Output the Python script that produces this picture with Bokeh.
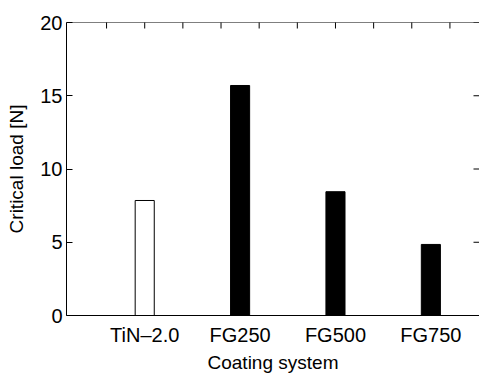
from bokeh.plotting import figure
from bokeh.models import LinearAxis, FixedTicker, Range1d, ColumnDataSource, Span
from bokeh.embed import file_html
from bokeh.resources import INLINE
import math

# Data
categories = ["TiN\u20132.0", "FG250", "FG500", "FG750"]
critical_load = [7.85, 15.7, 8.45, 4.85]
y_ticks = [0, 5, 10, 15, 20]
top_ticks = [0.6, 1.0, 1.4, 1.8, 2.2, 2.6, 3.0, 3.4, 3.8, 4.2]

positions = list(range(1, len(categories) + 1))
fill_colors = ["white", "black", "black", "black"]

X0, X1 = 0.18, 4.51
Y0, Y1 = 0, 20

FONT = "Liberation Sans"
FS = "20px"
LFS = "19px"

p = figure(width=479, height=375, output_backend="svg", toolbar_location=None,
           x_range=Range1d(X0, X1), y_range=Range1d(Y0, Y1),
           min_border_left=66, min_border_right=0, min_border_top=22,
           min_border_bottom=55, x_axis_location=None, y_axis_location=None)
p.grid.visible = False
p.outline_line_color = None
p.background_fill_color = "white"
p.border_fill_color = "white"

src = ColumnDataSource(dict(x=positions, top=critical_load, color=fill_colors))
p.vbar(x="x", top="top", bottom=0, width=0.2, source=src,
       fill_color="color", line_color="black", line_width=1)

def style(ax):
    ax.axis_line_color = "black"
    ax.axis_line_width = 1
    ax.major_tick_line_color = "black"
    ax.major_tick_in = 6
    ax.major_tick_out = 0
    ax.minor_tick_line_color = None
    ax.major_label_text_font = FONT
    ax.major_label_text_font_size = FS
    ax.major_label_text_color = "black"
    ax.axis_label_text_font = FONT
    ax.axis_label_text_font_size = LFS
    ax.axis_label_text_font_style = "normal"
    ax.axis_label_text_color = "black"

# bottom axis with category labels
bottom = LinearAxis(ticker=FixedTicker(ticks=positions), axis_label="Coating system")
style(bottom)
bottom.major_tick_line_color = None
bottom.major_label_overrides = {pos: lab for pos, lab in zip(positions, categories)}
bottom.major_label_standoff = 8
bottom.axis_label_standoff = 3
p.add_layout(bottom, "below")

# left axis
left = LinearAxis(ticker=FixedTicker(ticks=y_ticks), axis_label="Critical load [N]")
style(left)
left.major_label_standoff = 4
left.axis_label_standoff = 10
p.add_layout(left, "left")

# top and right box edges
p.add_layout(Span(location=Y1, dimension="width", line_color="black", line_width=1))
p.add_layout(Span(location=X1, dimension="height", line_color="#d8d8d8", line_width=1))

# inward ticks on top and right edges (clipped to frame -> half shows)
p.scatter(x=top_ticks, y=[Y1] * len(top_ticks), marker="dash", size=12,
          angle=math.pi / 2, line_color="black", line_width=1)
p.scatter(x=[X1] * len(y_ticks), y=y_ticks, marker="dash", size=12,
          line_color="black", line_width=1)

open("out.html", "w").write(file_html(p, INLINE))
